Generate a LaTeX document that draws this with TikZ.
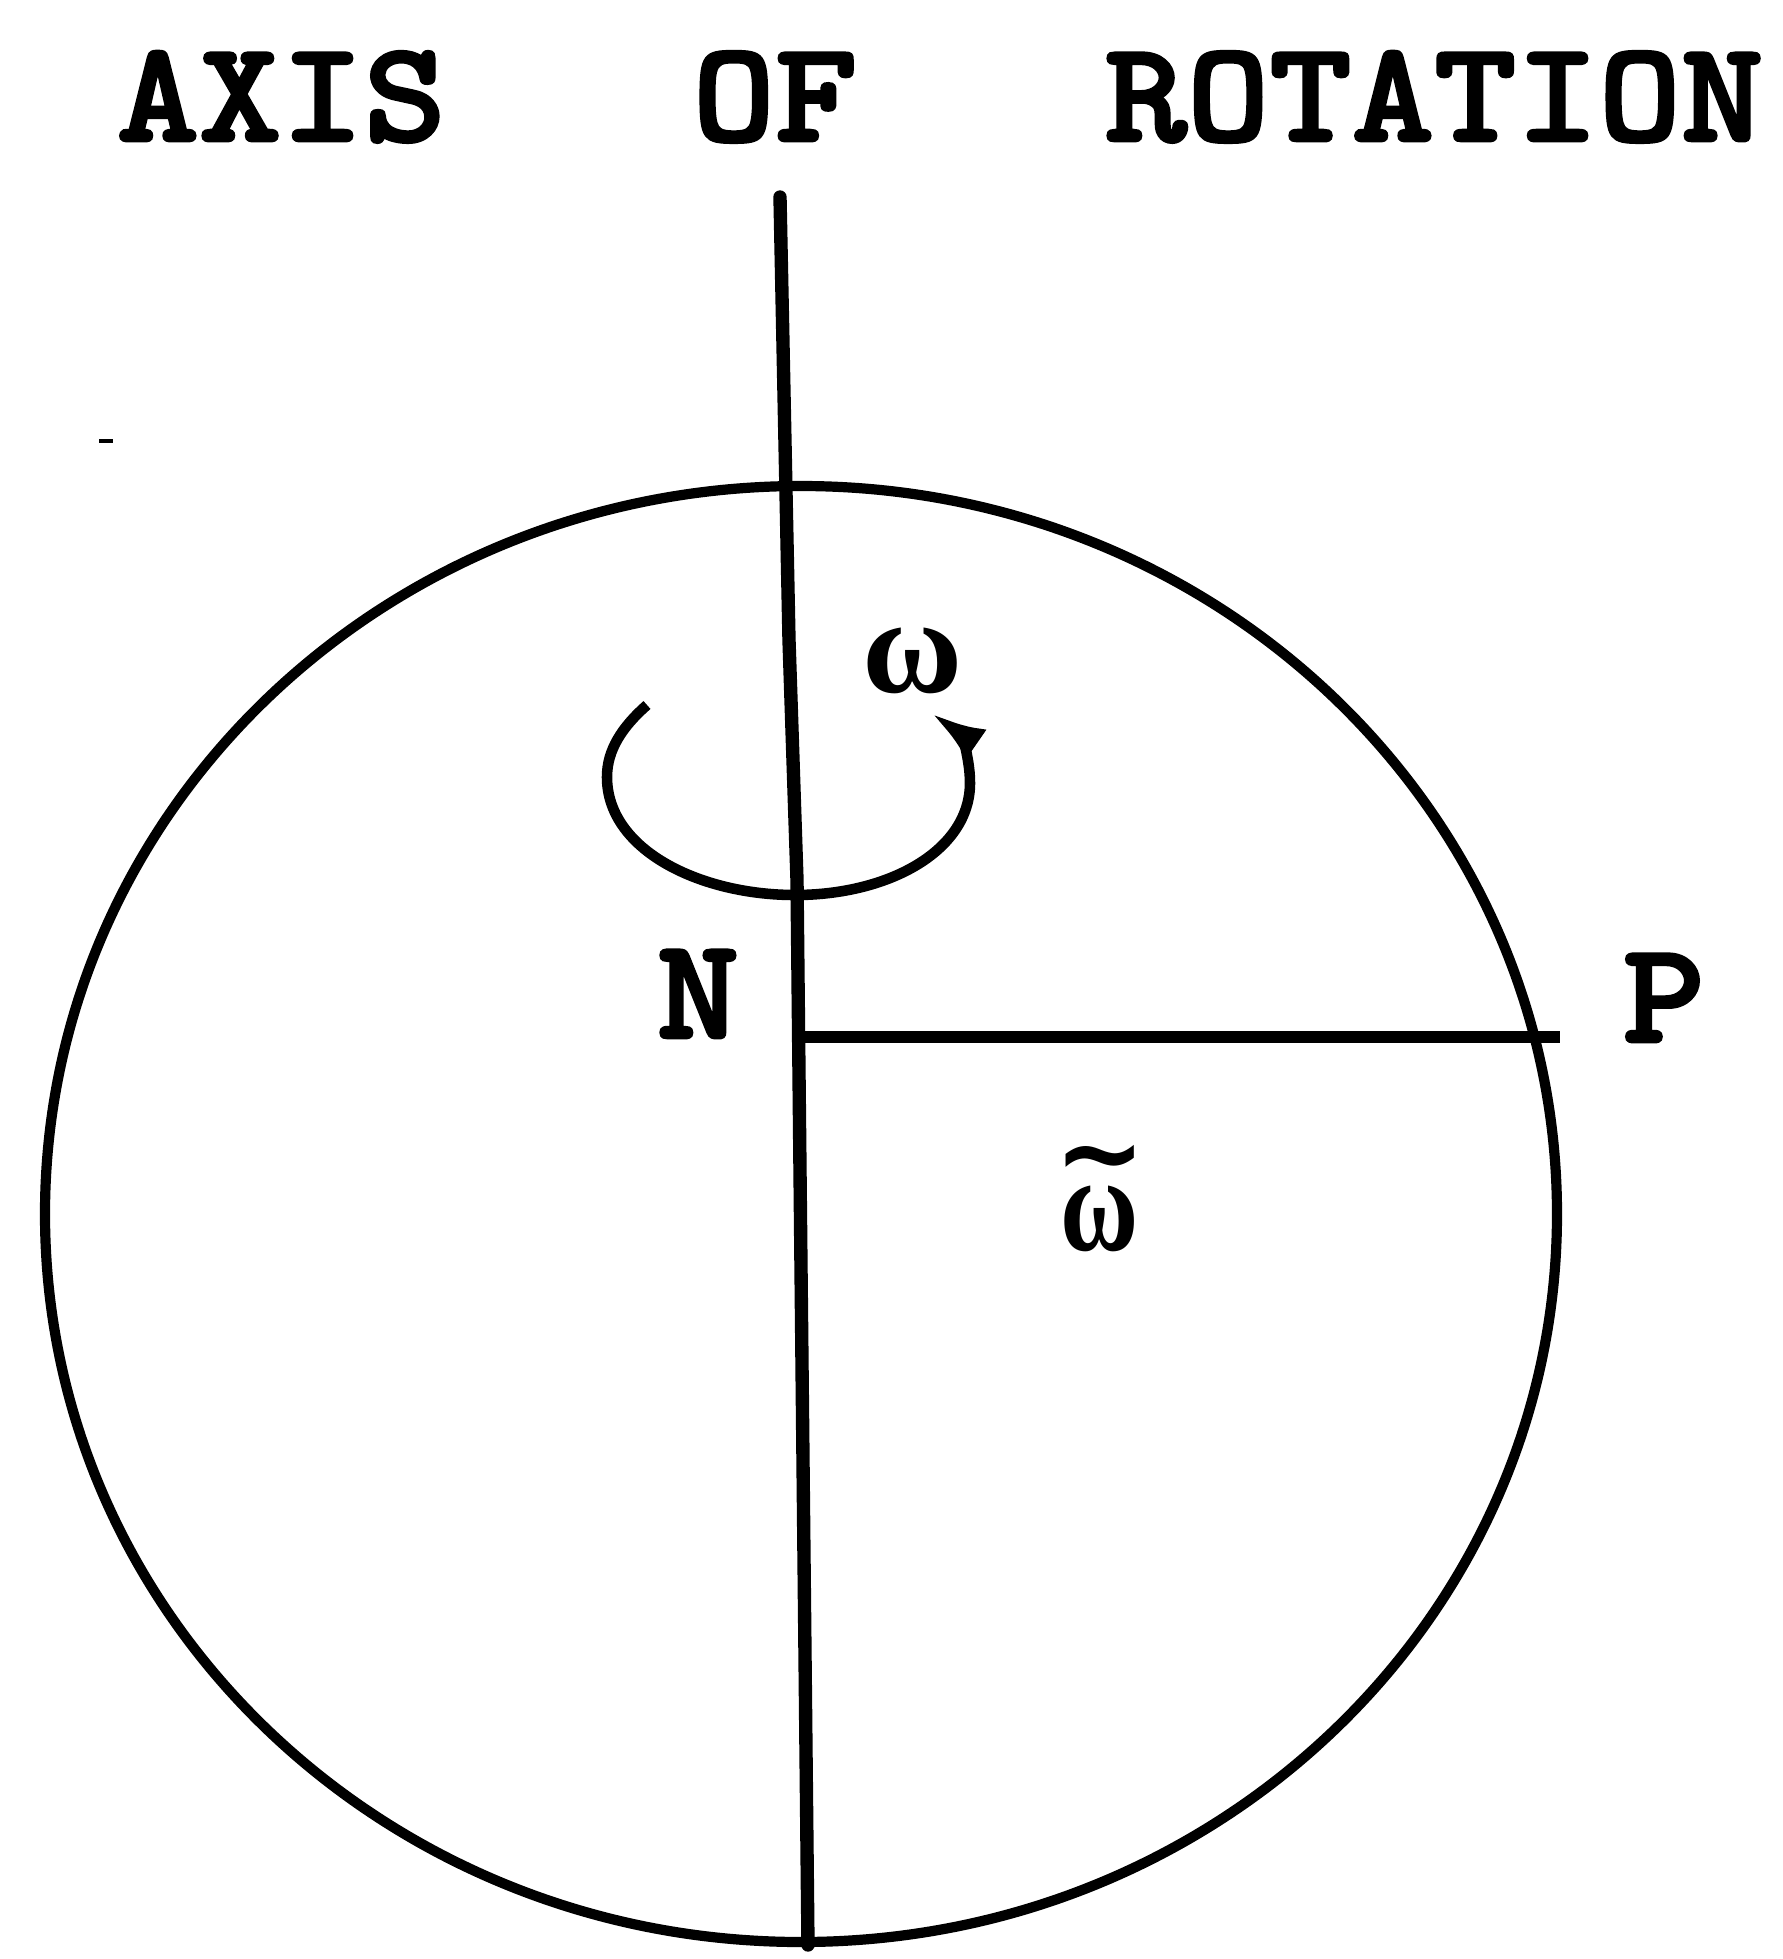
\documentclass[tikz,border=0pt]{standalone}
\usepackage{fontspec}
\newfontfamily\typew{lmmonolt10-bold.otf}[FakeBold=2]
\newfontfamily\greekf{Liberation Serif}
\newfontfamily\tildef{DejaVu Sans}
\usetikzlibrary{arrows.meta}
\newcommand{\tallcaps}[1]{\scalebox{1}[0.92]{#1}}
\begin{document}
\begin{tikzpicture}[x=0.01cm,y=-0.01cm,
  titletext/.style={inner sep=0pt,anchor=base west,font=\typew\fontsize{44.6}{44.6}\selectfont},
  lbl/.style={inner sep=0pt,anchor=base,font=\typew\fontsize{44.6}{44.6}\selectfont},
  grk/.style={inner sep=0pt,anchor=base,font=\greekf\bfseries\fontsize{39}{39}\selectfont},
  globe/.style={line width=2.9pt},
  axisline/.style={line width=3.8pt,line join=round,line cap=round},
  radline/.style={line width=3.5pt},
  spin/.style={line width=3pt,-{Latex[length=5.5mm,width=3.6mm]}},
  speck/.style={line width=1.4pt}
]
\useasboundingbox (0,0) rectangle (1783,1959);
% title
\node[titletext] (t1) at (116,141) {\tallcaps{AXIS}};
\node[titletext] (t2) at (692,141) {\tallcaps{OF}};
\node[titletext] (t3) at (1104,141) {\tallcaps{ROTATION}};
% earth outline
\coordinate (ctr) at (801,1214);
\draw[globe] (ctr) ellipse [x radius=756, y radius=728];
% axis of rotation
\coordinate (axtop) at (780,197);
\coordinate (ax1) at (789,640);
\coordinate (ax2) at (797,880);
\coordinate (axbot) at (808,1945);
\draw[axisline] (axtop) -- (ax1) -- (ax2) -- (axbot);
% radius N--P
\coordinate (foot) at (799,1037);
\coordinate (pend) at (1560,1037);
\draw[radline] (foot) -- (pend);
% labels
\node[lbl] (N) at (698,1038) {\tallcaps{N}};
\node[lbl] (P) at (1664,1042) {\tallcaps{P}};
\node[grk] (w) at (913,692) {ω};
\node[grk] (wt) at (1100,1250) {\ooalign{\hfil\raisebox{0.59cm}{\tildef\bfseries\fontsize{31}{31}\selectfont\textasciitilde}\hfil\cr\hfil\scalebox{0.78}[1]{ω}\hfil\cr}};
% rotation arrow
\coordinate (spinstart) at (647,705);
\coordinate (spinend) at (931,713);
\draw[spin] (spinstart) .. controls (622,727) and (607,750) .. (607,777)
  .. controls (607,850) and (700,895) .. (795,895)
  .. controls (890,895) and (970,850) .. (970,783)
  .. controls (970,752) and (957,731) .. (spinend);
% small speck
\coordinate (s1) at (99,441);
\coordinate (s2) at (113,441);
\draw[speck] (s1) -- (s2);
\end{tikzpicture}
\end{document}
